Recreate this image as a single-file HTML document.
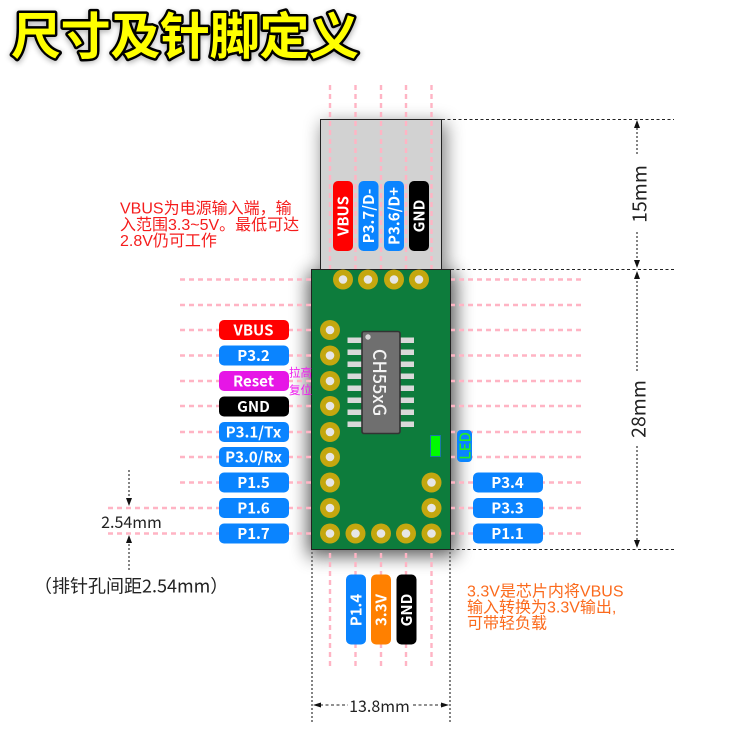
<!DOCTYPE html>
<html><head><meta charset="utf-8">
<style>
html,body{margin:0;padding:0;background:#fff;width:750px;height:750px;overflow:hidden}
svg{display:block}
text{font-family:"Liberation Sans","Noto Sans CJK SC",sans-serif}
.n{font-family:"Noto Sans CJK SC","Liberation Sans",sans-serif}
.l{font-family:"Noto Sans CJK SC","Liberation Sans",sans-serif;font-weight:700;font-size:15px;fill:#fff;text-anchor:middle;dominant-baseline:central}
.p{stroke:#ffb4c4;stroke-width:2.4;stroke-dasharray:5 4;fill:none}
.d{stroke:#222;stroke-width:1;stroke-dasharray:3 2.5;fill:none}
.g{stroke:#666;stroke-width:1.6;stroke-dasharray:2 2;fill:none}
.dim{font-family:"Noto Sans CJK SC","Liberation Sans",sans-serif;font-weight:400;font-size:16px;fill:#222;text-anchor:middle;dominant-baseline:central}
.r{font-size:16px;fill:#f51c1c}
.o{font-size:16px;fill:#fb6a1c}
</style></head><body>
<svg width="750" height="750" viewBox="0 0 750 750" xmlns="http://www.w3.org/2000/svg">
<defs>
<filter id="s" x="-30%" y="-30%" width="160%" height="160%"><feGaussianBlur stdDeviation="9"/></filter>
<filter id="t" x="-10%" y="-30%" width="120%" height="160%"><feGaussianBlur stdDeviation="3"/></filter>
</defs>

<!-- title -->
<text class="n" x="11" y="56" font-size="50" font-weight="900" fill="#000" opacity=".3" stroke="#000" stroke-width="4" filter="url(#t)" textLength="348">尺寸及针脚定义</text>
<text class="n" x="11" y="54" font-size="50" font-weight="700" fill="#ff0" stroke="#000" stroke-width="5" stroke-linejoin="round" paint-order="stroke" textLength="348">尺寸及针脚定义</text>

<!-- shadows -->
<rect x="322" y="123" width="124" height="148" fill="#000" opacity=".5" filter="url(#s)"/>
<rect x="308" y="272" width="148" height="284" fill="#000" opacity=".65" filter="url(#s)"/>

<!-- USB area -->
<rect x="320.5" y="119.5" width="121" height="150" fill="#d2d2d2" stroke="#222" stroke-width="1"/>

<!-- pink vertical lines -->
<g class="p">
<path d="M330 85V270M355.5 85V270M381 85V270M406 85V270M431.5 85V270"/>
<path d="M330 553V668M355.5 553V668M381 553V668M406 553V668M431.5 553V668"/>
<!-- horizontal -->
<path d="M180 279.5H312M180 305H312M180 330H312M180 355.5H312M180 381H312M180 406H312M180 432H312M180 457H312M180 482.5H312"/>
<path d="M108 508H312M108 533.5H312"/>
<path d="M450 279.5H582M450 305H582M450 330H582M450 355.5H582M450 381H582M450 406H582M450 432H582M450 457H582M450 482.5H582M450 508H582M450 533.5H582"/>
</g>

<!-- PCB -->
<rect x="311.5" y="269.5" width="139" height="280" fill="#0d7c3c" stroke="#222" stroke-width="1"/>

<!-- pads -->
<g fill="#c4a70f">
<circle cx="343" cy="279.5" r="10"/><circle cx="368" cy="279.5" r="10"/><circle cx="394" cy="279.5" r="10"/><circle cx="419" cy="279.5" r="10"/>
<circle cx="330" cy="330" r="10"/><circle cx="330" cy="355.5" r="10"/><circle cx="330" cy="381" r="10"/><circle cx="330" cy="406" r="10"/><circle cx="330" cy="432" r="10"/><circle cx="330" cy="457" r="10"/><circle cx="330" cy="482.5" r="10"/><circle cx="330" cy="508" r="10"/><circle cx="330" cy="533.5" r="10"/>
<circle cx="355.5" cy="533.5" r="10"/><circle cx="381" cy="533.5" r="10"/><circle cx="406" cy="533.5" r="10"/><circle cx="431.5" cy="533.5" r="10"/><circle cx="431.5" cy="508" r="10"/><circle cx="431.5" cy="482.5" r="10"/>
</g>
<g fill="#e6e6e6">
<circle cx="343" cy="279.5" r="4.3"/><circle cx="368" cy="279.5" r="4.3"/><circle cx="394" cy="279.5" r="4.3"/><circle cx="419" cy="279.5" r="4.3"/>
<circle cx="330" cy="330" r="4.3"/><circle cx="330" cy="355.5" r="4.3"/><circle cx="330" cy="381" r="4.3"/><circle cx="330" cy="406" r="4.3"/><circle cx="330" cy="432" r="4.3"/><circle cx="330" cy="457" r="4.3"/><circle cx="330" cy="482.5" r="4.3"/><circle cx="330" cy="508" r="4.3"/><circle cx="330" cy="533.5" r="4.3"/>
<circle cx="355.5" cy="533.5" r="4.3"/><circle cx="381" cy="533.5" r="4.3"/><circle cx="406" cy="533.5" r="4.3"/><circle cx="431.5" cy="533.5" r="4.3"/><circle cx="431.5" cy="508" r="4.3"/><circle cx="431.5" cy="482.5" r="4.3"/>
</g>

<!-- chip pins -->
<g fill="#d9d9d9">
<rect x="347.5" y="337.5" width="14" height="5.5"/><rect x="347.5" y="349.5" width="14" height="5.5"/><rect x="347.5" y="361.5" width="14" height="5.5"/><rect x="347.5" y="373.5" width="14" height="5.5"/><rect x="347.5" y="385.5" width="14" height="5.5"/><rect x="347.5" y="397.5" width="14" height="5.5"/><rect x="347.5" y="409.5" width="14" height="5.5"/><rect x="347.5" y="421.5" width="14" height="5.5"/>
<rect x="400" y="337.5" width="14" height="5.5"/><rect x="400" y="349.5" width="14" height="5.5"/><rect x="400" y="361.5" width="14" height="5.5"/><rect x="400" y="373.5" width="14" height="5.5"/><rect x="400" y="385.5" width="14" height="5.5"/><rect x="400" y="397.5" width="14" height="5.5"/><rect x="400" y="409.5" width="14" height="5.5"/><rect x="400" y="421.5" width="14" height="5.5"/>
</g>
<rect x="362" y="331.5" width="38" height="102" rx="2" fill="#6f6f6f" stroke="#333" stroke-width="1.6"/>
<circle cx="368" cy="337" r="2.7" fill="#d9d9d9"/>
<text class="n" transform="translate(380,382.500) rotate(90)" font-size="18" font-weight="500" fill="#f4f4f4" text-anchor="middle" dominant-baseline="central">CH55xG</text>

<!-- LED -->
<rect x="430.5" y="435.500" width="10" height="21" fill="#00fa00" stroke="#1a78a8" stroke-width="1"/>
<rect x="457" y="430" width="15" height="32" rx="4" fill="#0a84ff"/>
<text class="n" transform="translate(465,446) rotate(-90)" font-size="15" font-weight="500" fill="#22f022" text-anchor="middle" dominant-baseline="central">LED</text>

<!-- left labels -->
<g>
<rect x="219" y="320" width="70" height="20" rx="5" fill="#ff0000"/>
<rect x="219" y="345.5" width="70" height="20" rx="5" fill="#0a84ff"/>
<rect x="219" y="371" width="70" height="20" rx="5" fill="#e616e6"/>
<rect x="219" y="396.5" width="70" height="20" rx="5" fill="#000"/>
<rect x="219" y="422" width="70" height="20" rx="5" fill="#0a84ff"/>
<rect x="219" y="447" width="70" height="20" rx="5" fill="#0a84ff"/>
<rect x="219" y="472.5" width="70" height="20" rx="5" fill="#0a84ff"/>
<rect x="219" y="498" width="70" height="20" rx="5" fill="#0a84ff"/>
<rect x="219" y="523.5" width="70" height="20" rx="5" fill="#0a84ff"/>
<rect x="473" y="472.5" width="70" height="20" rx="5" fill="#0a84ff"/>
<rect x="473" y="498" width="70" height="20" rx="5" fill="#0a84ff"/>
<rect x="473" y="523.5" width="70" height="20" rx="5" fill="#0a84ff"/>
</g>
<text class="l" x="253.500" y="330">VBUS</text>
<text class="l" x="253.500" y="355.5">P3.2</text>
<text class="l" x="253.500" y="381">Reset</text>
<text class="l" x="253.500" y="406.5">GND</text>
<text class="l" x="253.500" y="432">P3.1/Tx</text>
<text class="l" x="253.500" y="457">P3.0/Rx</text>
<text class="l" x="253.500" y="482.5">P1.5</text>
<text class="l" x="253.500" y="508">P1.6</text>
<text class="l" x="253.500" y="533.5">P1.7</text>
<text class="l" x="507.500" y="482.5">P3.4</text>
<text class="l" x="507.500" y="508">P3.3</text>
<text class="l" x="507.500" y="533.5">P1.1</text>

<text class="n" x="289" y="376.500" font-size="11.500" fill="#f01cf0">拉高</text>
<text class="n" x="289" y="394" font-size="11.500" fill="#f01cf0">复位</text>

<!-- top vertical labels -->
<rect x="333" y="181" width="20" height="70" rx="5" fill="#ff0000"/>
<rect x="358.5" y="181" width="20" height="70" rx="5" fill="#0a84ff"/>
<rect x="384" y="181" width="20" height="70" rx="5" fill="#0a84ff"/>
<rect x="409" y="181" width="20" height="70" rx="5" fill="#000"/>
<text class="l" transform="translate(343,216) rotate(-90)">VBUS</text>
<text class="l" transform="translate(368.5,216) rotate(-90)">P3.7/D-</text>
<text class="l" transform="translate(394,216) rotate(-90)">P3.6/D+</text>
<text class="l" transform="translate(419,216) rotate(-90)">GND</text>

<!-- bottom vertical labels -->
<rect x="346" y="574.5" width="20" height="70" rx="5" fill="#0a84ff"/>
<rect x="371" y="574.5" width="20" height="70" rx="5" fill="#ff8000"/>
<rect x="396.5" y="574.5" width="20" height="70" rx="5" fill="#000"/>
<text class="l" transform="translate(356,610) rotate(-90)">P1.4</text>
<text class="l" transform="translate(381,610) rotate(-90)">3.3V</text>
<text class="l" transform="translate(406.5,610) rotate(-90)">GND</text>

<!-- dimension lines -->
<path class="d" d="M442 119.5H674M451 269.5H674M451 549.5H674"/>
<path class="g" d="M637 128V156M637 232V262M637 277V372M637 446V540"/>
<path d="M637 120l-3 8h6zM637 268l-3-8h6zM637 271l-3 8h6zM637 548l-3-8h6z" fill="#111"/>
<text class="dim" transform="translate(638,194) rotate(-90)" style="font-size:19.500px">15mm</text>
<text class="dim" transform="translate(637,409) rotate(-90)" style="font-size:19.500px">28mm</text>

<path class="g" d="M312 552V722M450 552V722"/>
<path class="d" d="M320 705H348M413 705H442"/>
<path d="M313 705l8-2.5v5zM449 705l-8-2.5v5z" fill="#111"/>
<text class="dim" x="379.5" y="705">13.8mm</text>

<path class="g" d="M129 470V498M129 540V570"/>
<path d="M129 506l-3-8h6zM129 535l-3 8h6z" fill="#111"/>
<text class="dim" x="131.500" y="521">2.54mm</text>
<text class="n" x="34" y="592.500" font-size="18" font-weight="400" fill="#222">（排针孔间距2.54mm）</text>

<!-- notes -->
<text class="r" x="120" y="213.500">VBUS为电源输入端，输</text>
<text class="r" x="120" y="230">入范围3.3~5V。最低可达</text>
<text class="r" x="120" y="246">2.8V仍可工作</text>
<text class="o" x="467" y="596.500">3.3V是芯片内将VBUS</text>
<text class="o" x="467" y="612.500">输入转换为3.3V输出,</text>
<text class="o" x="467" y="628.500">可带轻负载</text>
</svg>
</body></html>
